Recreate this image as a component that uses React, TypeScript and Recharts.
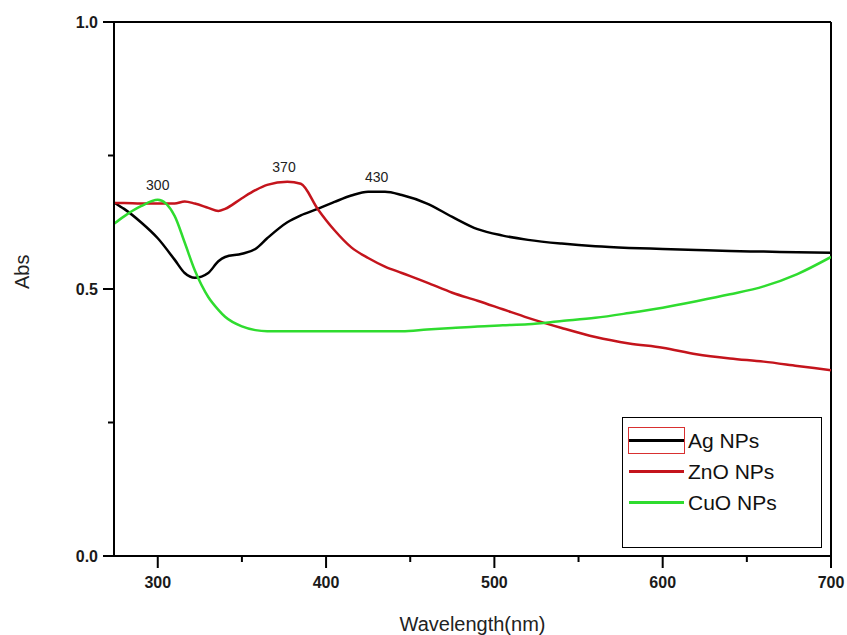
import {
  LineChart, Line, XAxis, YAxis, ReferenceLine, ReferenceDot,
} from 'recharts'

const WAVELENGTH = [
  274, 280, 290, 300, 310, 316, 322, 330, 336, 340, 350, 358, 365, 377, 385, 395, 405, 415,
  425, 435, 445, 460, 475, 490, 505, 520, 540, 560, 580, 600, 620, 640, 660, 680, 700,
]
const AG = [
  0.662, 0.650, 0.625, 0.595, 0.555, 0.530, 0.521, 0.530, 0.552, 0.560, 0.566, 0.575, 0.595,
  0.625, 0.638, 0.650, 0.663, 0.675, 0.682, 0.682, 0.676, 0.660, 0.635, 0.612, 0.600, 0.592,
  0.585, 0.580, 0.577, 0.575, 0.573, 0.571, 0.570, 0.569, 0.568,
]
const ZNO = [
  0.661, 0.661, 0.660, 0.660, 0.660, 0.664, 0.660, 0.652, 0.646, 0.650, 0.670, 0.685, 0.695,
  0.701, 0.697, 0.650, 0.610, 0.578, 0.558, 0.542, 0.530, 0.512, 0.493, 0.478, 0.462, 0.446,
  0.427, 0.410, 0.398, 0.390, 0.378, 0.370, 0.364, 0.356, 0.348,
]
const CUO = [
  0.622, 0.636, 0.655, 0.667, 0.637, 0.587, 0.535, 0.485, 0.461, 0.448, 0.430, 0.423, 0.421,
  0.421, 0.421, 0.421, 0.421, 0.421, 0.421, 0.421, 0.421, 0.424, 0.427, 0.430, 0.432, 0.434,
  0.440, 0.446, 0.455, 0.465, 0.477, 0.490, 0.505, 0.528, 0.560,
]

const X_TICKS = [300, 350, 400, 450, 500, 550, 600, 650, 700]
const Y_TICKS = [0, 0.25, 0.5, 0.75, 1]

// peak annotations
const PEAK_TEXT = ['300', '370', '430']
const PEAK_X = [300, 375, 430]
const PEAK_Y = [0.695, 0.728, 0.71]

const SERIES = [
  { key: 'ag', name: 'Ag NPs', color: '#000000' },
  { key: 'zno', name: 'ZnO NPs', color: '#c4141c' },
  { key: 'cuo', name: 'CuO NPs', color: '#2fdc2f' },
]

const FONT = '"Liberation Sans", Arial, sans-serif'

const data = WAVELENGTH.map((w, i) => ({ w, ag: AG[i], zno: ZNO[i], cuo: CUO[i] }))

function XTick({ x, y, payload }: any) {
  const major = payload.value % 100 === 0
  return (
    <g>
      <line x1={x} x2={x} y1={y} y2={y + (major ? 12 : 6)} stroke="#000" strokeWidth={2} />
      {major && (
        <text x={x} y={y + 32} textAnchor="middle" fontFamily={FONT} fontWeight={700} fontSize={16} fill="#1a1a1a">
          {payload.value}
        </text>
      )}
    </g>
  )
}

function YTick({ x, y, payload }: any) {
  const major = Math.round(payload.value * 100) % 50 === 0
  return (
    <g>
      <line x1={x} x2={x - (major ? 11 : 6)} y1={y} y2={y} stroke="#000" strokeWidth={2} />
      {major && (
        <text x={x - 16} y={y + 6} textAnchor="end" fontFamily={FONT} fontWeight={700} fontSize={16} fill="#1a1a1a">
          {payload.value.toFixed(1)}
        </text>
      )}
    </g>
  )
}

function LegendBox() {
  return (
    <div style={{
      position: 'absolute', left: 622, top: 417, width: 200, height: 131,
      boxSizing: 'border-box', border: '1px solid #000',
      background: '#fff', paddingTop: 7, fontFamily: FONT,
    }}>
      {SERIES.map((s, i) => (
        <div key={s.key} style={{ display: 'flex', alignItems: 'center', height: 31 }}>
          <div style={{
            marginLeft: 5, width: 57, height: 27, boxSizing: 'border-box',
            border: i === 0 ? '1px solid #d83030' : '1px solid transparent',
            display: 'flex', alignItems: 'center',
          }}>
            <div style={{ width: '100%', height: 3, background: s.color }} />
          </div>
          <span style={{ marginLeft: 3, fontSize: 21, color: '#111' }}>{s.name}</span>
        </div>
      ))}
    </div>
  )
}

export default function App() {
  return (
    <div style={{ position: 'absolute', left: 0, top: 0, width: 847, height: 635, background: '#fff' }}>
      <LineChart width={847} height={635} data={data} margin={{ top: 22, right: 16, bottom: 0, left: 0 }}>
        <XAxis
          dataKey="w" type="number" domain={[274, 700]} ticks={X_TICKS} allowDataOverflow
          height={79} tickSize={0} tickMargin={0} tickLine={false} tick={<XTick />}
          axisLine={{ stroke: '#000', strokeWidth: 2 }}
          label={{ value: 'Wavelength(nm)', position: 'insideBottom', offset: 4, fontSize: 20, fontFamily: FONT, fill: '#222' }}
        />
        <YAxis
          type="number" domain={[0, 1]} ticks={Y_TICKS} allowDataOverflow
          width={114} tickSize={0} tickMargin={0} tickLine={false} tick={<YTick />}
          axisLine={{ stroke: '#000', strokeWidth: 2 }}
          label={{ value: 'Abs', angle: -90, position: 'insideLeft', offset: 22, fontSize: 20, fontFamily: FONT, fill: '#222' }}
        />
        <ReferenceLine y={1} stroke="#000" strokeWidth={2} />
        <ReferenceLine x={700} stroke="#000" strokeWidth={2} />
        {SERIES.map((s) => (
          <Line
            key={s.key} type="monotone" dataKey={s.key} name={s.name} stroke={s.color}
            strokeWidth={2.5} dot={false} isAnimationActive={false}
          />
        ))}
        {PEAK_TEXT.map((t, i) => (
          <ReferenceDot
            key={t} x={PEAK_X[i]} y={PEAK_Y[i]} r={0} stroke="none" fill="none"
            label={{ value: t, position: 'center', fontSize: 14, fontFamily: FONT, fill: '#222' }}
          />
        ))}
      </LineChart>
      <LegendBox />
    </div>
  )
}
